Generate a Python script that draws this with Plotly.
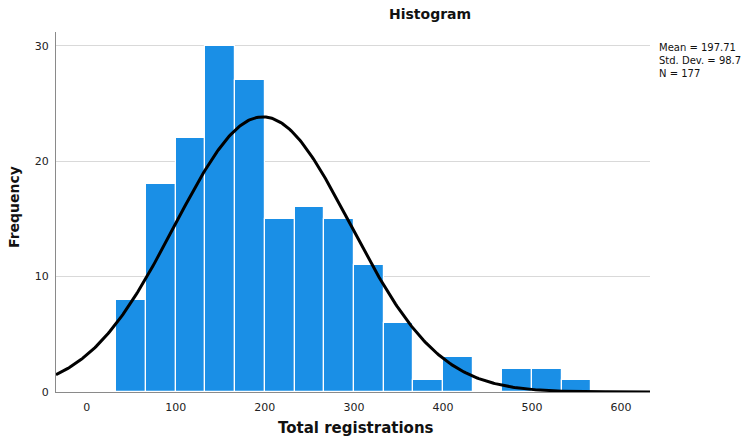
import numpy as np
import plotly.graph_objects as go

# Histogram of total registrations (bin width 100/3, first bin starts at 33.3)
counts = [8, 18, 22, 30, 27, 15, 16, 15, 11, 6, 1, 3, 0, 2, 2, 1]
bin_width = 100 / 3
first_edge = 100 / 3

# Summary statistics shown in the side box
mean_val = 197.71
std_val = 98.7
n_obs = 177
stats_lines = ["Mean = 197.71", "Std. Dev. = 98.7", "N = 177"]

x_ticks = [0, 100, 200, 300, 400, 500, 600]
y_ticks = [0, 10, 20, 30]

x_range = [-34.5, 632.5]
y_range = [0, 31.2]

centers = [first_edge + bin_width * (i + 0.5) for i in range(len(counts))]

# Normal curve scaled to the histogram's counts
xc = np.linspace(x_range[0], x_range[1], 400)
yc = n_obs * bin_width / (std_val * np.sqrt(2 * np.pi)) * np.exp(-0.5 * ((xc - mean_val) / std_val) ** 2)

fig = go.Figure()
fig.add_trace(go.Bar(
    x=centers, y=counts, width=[bin_width] * len(counts),
    marker=dict(color="#1a8fe6", line=dict(color="white", width=1.2)),
    hoverinfo="x+y",
))
fig.add_trace(go.Scatter(
    x=xc, y=yc, mode="lines",
    line=dict(color="black", width=3),
    hoverinfo="skip",
))

font_family = "DejaVu Sans"

# plot area in pixels: left 56, right 650, top 32, bottom 392
L, R, T, B = 56, 650, 32, 392
PW, PH = R - L, B - T


def px(x):
    return (x - L) / PW


def py(y):
    return (B - y) / PH


annotations = [
    dict(text="<b>Histogram</b>", x=px(430), y=py(14), xanchor="center", yanchor="middle",
         font=dict(size=14, color="#111")),
    dict(text="<b>Total registrations</b>", x=px(356), y=py(428), xanchor="center", yanchor="middle",
         font=dict(size=15, color="#111")),
    dict(text="<b>Frequency</b>", x=px(14), y=py(207), xanchor="center", yanchor="middle",
         textangle=-90, font=dict(size=14, color="#111")),
    dict(text="<br>".join(stats_lines), x=px(657), y=py(40), xanchor="left", yanchor="top",
         align="left", font=dict(size=10, color="#111")),
]
for a in annotations:
    a.update(xref="paper", yref="paper", showarrow=False)

fig.update_layout(
    width=746, height=437,
    margin=dict(l=L, r=746 - R, t=T, b=437 - B),
    paper_bgcolor="white", plot_bgcolor="white",
    showlegend=False,
    bargap=0,
    font=dict(family=font_family, color="#222", size=11),
    xaxis=dict(
        range=x_range, tickvals=x_ticks, showgrid=False, zeroline=False,
        showline=True, linecolor="#8a8a8a", linewidth=1,
        ticks="", ticklabelstandoff=5, automargin=False,
        tickfont=dict(size=11, color="#222"),
    ),
    yaxis=dict(
        range=y_range, tickvals=y_ticks, showgrid=True, gridcolor="#d9d9d9", gridwidth=1,
        zeroline=False, showline=True, linecolor="#8a8a8a", linewidth=1,
        ticks="", ticklabelstandoff=4, automargin=False,
        tickfont=dict(size=11, color="#222"),
    ),
    annotations=annotations,
)

fig.write_html("out.html")
